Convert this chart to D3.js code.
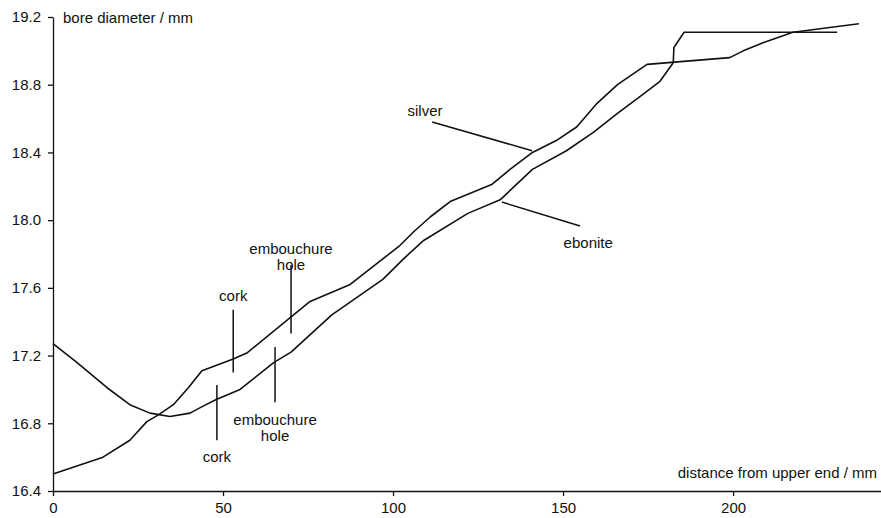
<!DOCTYPE html>
<html>
<head>
<meta charset="utf-8">
<script src="https://cdn.jsdelivr.net/npm/d3@7"></script>
<style>
  body { margin: 0; background: #fff; }
  text { font-family: "Liberation Sans", Arial, sans-serif; fill: #111; }
  .axis path, .axis line { stroke: #111; stroke-width: 1.3; }
  .axis text { font-size: 15px; }
  .curve { fill: none; stroke: #111; stroke-width: 1.6; stroke-linejoin: round; }
  .leader { stroke: #111; stroke-width: 1.5; }
  .label { font-size: 15px; }
</style>
</head>
<body>
<div id="chart"></div>
<script>
// Chart size
var svgWidth = 881;
var svgHeight = 518;

// Bore profiles (distance from upper end / mm, bore diameter / mm)
var silverX = [0, 14.7, 22.6, 27.6, 31, 35.4, 39.8, 43.8, 53, 57, 75.6, 87.4, 102, 106, 111, 116.8, 129, 134.4, 141, 148, 154, 160, 166, 174.7, 199, 203, 209, 217.6, 237];
var silverY = [16.5, 16.6, 16.7, 16.81, 16.85, 16.91, 17.01, 17.11, 17.18, 17.215, 17.52, 17.62, 17.85, 17.93, 18.02, 18.11, 18.21, 18.3, 18.4, 18.47, 18.55, 18.69, 18.8, 18.92, 18.96, 19.0, 19.05, 19.11, 19.16];

var eboniteX = [0, 7, 15.9, 22.6, 28.5, 34.4, 40.3, 44, 48, 55, 65, 70, 82, 97, 103, 109, 122, 131.5, 141, 151, 159, 166, 172.6, 178.5, 182.4, 182.6, 185.6, 230.6];
var eboniteY = [17.27, 17.16, 17.01, 16.91, 16.86, 16.84, 16.86, 16.9, 16.94, 17.0, 17.16, 17.22, 17.44, 17.65, 17.77, 17.88, 18.04, 18.12, 18.3, 18.41, 18.52, 18.63, 18.73, 18.82, 18.93, 19.02, 19.11, 19.11];

// Tick values
var xTicks = [0, 50, 100, 150, 200];
var yTicks = [16.4, 16.8, 17.2, 17.6, 18.0, 18.4, 18.8, 19.2];

// Marker lines (vertical bars) in data units: x, y from, y to
var markerX = [53, 70, 48.2, 65.3];
var markerY0 = [17.1, 17.33, 16.7, 16.925];
var markerY1 = [17.47, 17.735, 17.026, 17.25];
var markerText = [["cork"], ["embouchure", "hole"], ["cork"], ["embouchure", "hole"]];
var markerTextY = [17.52, 17.8, 16.57, 16.79];

// Leader lines for the two series
var leaderNames = ["silver", "ebonite"];
var leaderX0 = [111.5, 155];
var leaderY0 = [18.58, 17.965];
var leaderX1 = [140.9, 132];
var leaderY1 = [18.41, 18.107];
var leaderTextX = [109.4, 157.4];
var leaderTextY = [18.615, 17.835];

var x = d3.scaleLinear().domain([0, 243.5]).range([53, 881]);
var y = d3.scaleLinear().domain([16.4, 19.2]).range([491, 17]);

var svg = d3.select("#chart")
  .append("svg")
  .attr("width", svgWidth)
  .attr("height", svgHeight);

// Axes
svg.append("g")
  .attr("class", "axis")
  .attr("transform", "translate(0," + y(16.4) + ")")
  .call(d3.axisBottom(x).tickValues(xTicks).tickSize(5).tickSizeOuter(0).tickPadding(6).tickFormat(d3.format("d")))
  .call(g => g.selectAll("text").attr("font-family", null));

svg.append("g")
  .attr("class", "axis")
  .attr("transform", "translate(" + x(0) + ",0)")
  .call(d3.axisLeft(y).tickValues(yTicks).tickSize(5).tickSizeOuter(0).tickPadding(7).tickFormat(d3.format(".1f")))
  .call(g => g.selectAll("text").attr("font-family", null));

// Axis titles
svg.append("text")
  .attr("class", "label")
  .attr("x", 63)
  .attr("y", 23)
  .text("bore diameter / mm");

svg.append("text")
  .attr("class", "label")
  .attr("x", 877)
  .attr("y", 478)
  .attr("text-anchor", "end")
  .text("distance from upper end / mm");

// Curves
var line = d3.line()
  .x(d => x(d[0]))
  .y(d => y(d[1]));

svg.append("path")
  .datum(d3.zip(silverX, silverY))
  .attr("class", "curve")
  .attr("d", line);

svg.append("path")
  .datum(d3.zip(eboniteX, eboniteY))
  .attr("class", "curve")
  .attr("d", line);

// Cork / embouchure hole markers
markerX.forEach(function(mx, i) {
  svg.append("line")
    .attr("class", "leader")
    .attr("x1", x(mx)).attr("x2", x(mx))
    .attr("y1", y(markerY0[i])).attr("y2", y(markerY1[i]));

  var t = svg.append("text")
    .attr("class", "label")
    .attr("text-anchor", "middle")
    .attr("x", x(mx))
    .attr("y", y(markerTextY[i]));
  markerText[i].forEach(function(s, j) {
    t.append("tspan")
      .attr("x", x(mx))
      .attr("dy", j === 0 ? 0 : 16)
      .text(s);
  });
});

// Series leader lines
leaderNames.forEach(function(name, i) {
  svg.append("line")
    .attr("class", "leader")
    .attr("x1", x(leaderX0[i])).attr("y1", y(leaderY0[i]))
    .attr("x2", x(leaderX1[i])).attr("y2", y(leaderY1[i]));

  svg.append("text")
    .attr("class", "label")
    .attr("text-anchor", "middle")
    .attr("x", x(leaderTextX[i]))
    .attr("y", y(leaderTextY[i]))
    .text(name);
});
</script>
</body>
</html>
